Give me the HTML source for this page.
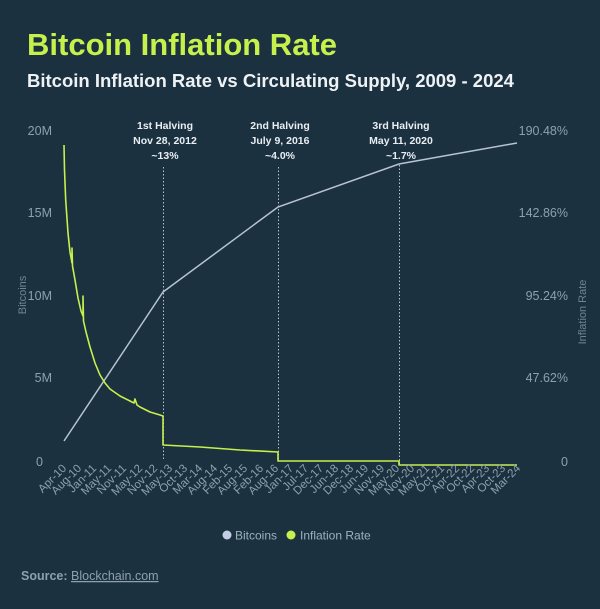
<!DOCTYPE html>
<html><head><meta charset="utf-8"><style>
html,body{margin:0;padding:0;background:#1b3140;}
body{width:600px;height:604px;overflow:hidden;font-family:"Liberation Sans",sans-serif;}
</style></head><body>
<svg width="600" height="604" xmlns="http://www.w3.org/2000/svg" font-family="Liberation Sans, sans-serif">
<rect width="600" height="604" fill="#1b3140"/>
<text x="27" y="55" font-size="31" font-weight="bold" fill="#c6f04c">Bitcoin Inflation Rate</text>
<text x="27" y="87" font-size="18.5" font-weight="bold" fill="#eef2f5">Bitcoin Inflation Rate vs Circulating Supply, 2009 - 2024</text>
<g font-size="12.5" fill="#8ea0ab" text-anchor="end">
<text x="52" y="135">20M</text><text x="52" y="217">15M</text><text x="52" y="300">10M</text><text x="52" y="382">5M</text><text x="43" y="466">0</text>
<text x="568" y="135">190.48%</text><text x="568" y="217">142.86%</text><text x="568" y="300">95.24%</text><text x="568" y="382">47.62%</text><text x="568" y="466">0</text>
</g>
<text transform="translate(26,295) rotate(-90)" font-size="11" fill="#6f8592" text-anchor="middle">Bitcoins</text>
<text transform="translate(586,312) rotate(-90)" font-size="11" fill="#6f8592" text-anchor="middle">Inflation Rate</text>
<g stroke="#b8c4cc" stroke-width="1" stroke-dasharray="1.5,2">
<line x1="163.5" y1="167" x2="163.5" y2="461"/><line x1="278.5" y1="167" x2="278.5" y2="461"/><line x1="399.5" y1="165" x2="399.5" y2="465"/>
</g>
<g font-size="10.5" font-weight="bold" fill="#e8eef2" text-anchor="middle">
<text x="165" y="129">1st Halving</text><text x="165" y="144">Nov 28, 2012</text><text x="165" y="159">~13%</text>
<text x="280" y="129">2nd Halving</text><text x="280" y="144">July 9, 2016</text><text x="280" y="159">~4.0%</text>
<text x="401" y="129">3rd Halving</text><text x="401" y="144">May 11, 2020</text><text x="401" y="159">~1.7%</text>
</g>
<polyline fill="none" stroke="#b8c4d0" stroke-width="1.5" points="64,441 163,292 278,207 399,164 517,143"/>
<polyline fill="none" stroke="#c6f04c" stroke-width="1.6" stroke-linejoin="round" points="64,145 64.5,170 65.7,200 68,233 70,252 72,263 72,248 72.5,266 75,280 78,298 81,311 83,316 83,296 83.5,321 86,332 90,347 95,363 100,375 105,383 110,389 120,396 130,401 134,403 135,399 137,405 140,407 150,412 160,415 163,416 163,445 200,447 240,450 278,452 278,461 360,461 399,461 399,465 517,465"/>
<g font-size="11.5" fill="#8ea0ab" text-anchor="end">
<text transform="translate(67,469) rotate(-45)">Apr-10</text>
<text transform="translate(82,469) rotate(-45)">Aug-10</text>
<text transform="translate(97,469) rotate(-45)">Jan-11</text>
<text transform="translate(112,469) rotate(-45)">May-11</text>
<text transform="translate(127,469) rotate(-45)">Nov-11</text>
<text transform="translate(143,469) rotate(-45)">May-12</text>
<text transform="translate(158,469) rotate(-45)">Nov-12</text>
<text transform="translate(173,469) rotate(-45)">May-13</text>
<text transform="translate(188,469) rotate(-45)">Oct-13</text>
<text transform="translate(203,469) rotate(-45)">Mar-14</text>
<text transform="translate(218,469) rotate(-45)">Aug-14</text>
<text transform="translate(233,469) rotate(-45)">Feb-15</text>
<text transform="translate(248,469) rotate(-45)">Aug-15</text>
<text transform="translate(264,469) rotate(-45)">Feb-16</text>
<text transform="translate(279,469) rotate(-45)">Aug-16</text>
<text transform="translate(294,469) rotate(-45)">Jan-17</text>
<text transform="translate(309,469) rotate(-45)">Jul-17</text>
<text transform="translate(324,469) rotate(-45)">Dec-17</text>
<text transform="translate(339,469) rotate(-45)">Jun-18</text>
<text transform="translate(354,469) rotate(-45)">Dec-18</text>
<text transform="translate(369,469) rotate(-45)">Jun-19</text>
<text transform="translate(385,469) rotate(-45)">Nov-19</text>
<text transform="translate(400,469) rotate(-45)">May-20</text>
<text transform="translate(415,469) rotate(-45)">Nov-20</text>
<text transform="translate(430,469) rotate(-45)">May-21</text>
<text transform="translate(445,469) rotate(-45)">Oct-21</text>
<text transform="translate(460,469) rotate(-45)">Apr-22</text>
<text transform="translate(475,469) rotate(-45)">Oct-22</text>
<text transform="translate(490,469) rotate(-45)">Apr-23</text>
<text transform="translate(506,469) rotate(-45)">Oct-23</text>
<text transform="translate(521,469) rotate(-45)">Mar-24</text>
</g>
<circle cx="227" cy="535" r="4.5" fill="#c4cfe6"/>
<text x="235" y="539.5" font-size="12" fill="#9fb0bb">Bitcoins</text>
<circle cx="291" cy="535" r="4.5" fill="#c6f04c"/>
<text x="300" y="539.5" font-size="12" fill="#9fb0bb">Inflation Rate</text>
<text x="21" y="580" font-size="12.5" font-weight="bold" fill="#8ea0ab">Source: <tspan font-weight="normal" text-decoration="underline">Blockchain.com</tspan></text>
</svg>
</body></html>
